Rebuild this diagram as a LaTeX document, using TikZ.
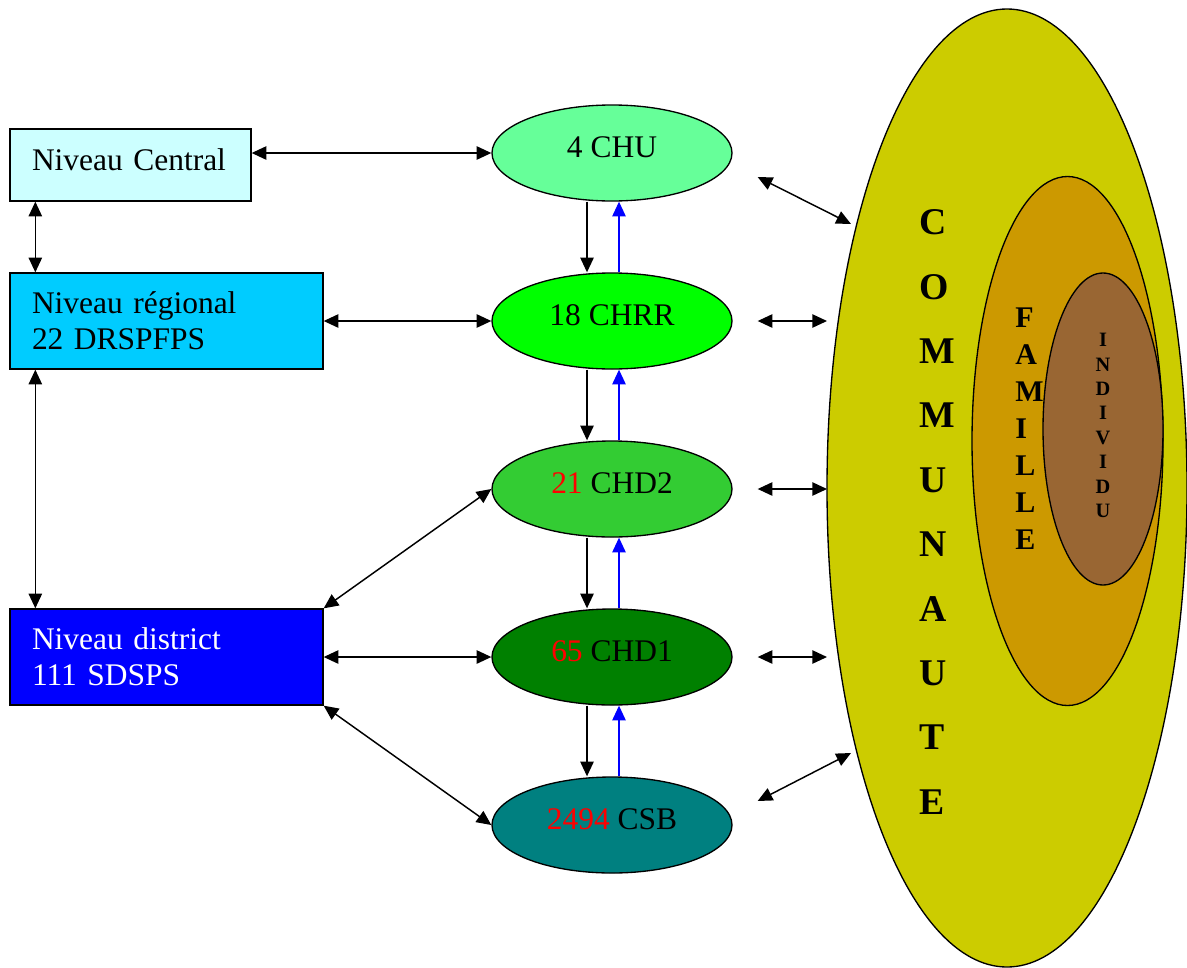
\documentclass[tikz,border=0pt]{standalone}
\usepackage{fontspec}
\setmainfont{Liberation Serif}
\usepackage{xcolor}
\definecolor{central-cyan}{HTML}{CCFFFF}
\definecolor{regional-blue}{HTML}{00CCFF}
\definecolor{district-blue}{HTML}{0000FF}
\definecolor{chu-green}{HTML}{66FF99}
\definecolor{chrr-green}{HTML}{00FF00}
\definecolor{chd2-green}{HTML}{33CC33}
\definecolor{chd1-green}{HTML}{008000}
\definecolor{csb-teal}{HTML}{008080}
\definecolor{commune-olive}{HTML}{CCCC00}
\definecolor{famille-ochre}{HTML}{CC9900}
\definecolor{individu-brown}{HTML}{996633}
\definecolor{count-red}{HTML}{FF0000}
\usepackage{tikz}
\usetikzlibrary{shapes.geometric, arrows.meta}

\tikzset{
  level box/.style={draw, line width=1pt, rectangle, inner xsep=16.5pt, inner ysep=0pt, align=left, font=\fontsize{23.6}{27}\selectfont},
  hospital/.style={draw, line width=1pt, ellipse, inner sep=0pt, minimum width=180pt, minimum height=72pt, text height=16pt, text depth=10pt, font=\fontsize{23.6}{27}\selectfont},
  zone/.style={draw, line width=1pt, ellipse, inner sep=0pt},
  zone word/.style={inner sep=0pt, font=\bfseries},
  both ways/.style={line width=1.1pt, {Triangle[length=11pt,width=10pt]}-{Triangle[length=11pt,width=10pt]}},
  down way/.style={line width=1.1pt, -{Triangle[length=11pt,width=10pt]}},
  up way/.style={line width=1.1pt, blue, -{Triangle[length=11pt,width=10pt]}},
}

\begin{document}
\begin{tikzpicture}[x=0.75pt, y=-0.75pt]

    % Frame
    \useasboundingbox (0, 0) rectangle (1187, 967);

    % Community rings
    \node[zone, fill=commune-olive, minimum width=270pt, minimum height=718.5pt] (commune) at (1007, 488) {};
    \node[zone, fill=famille-ochre, minimum width=143.25pt, minimum height=396.75pt] (famille) at (1067.5, 441) {};
    \node[zone, fill=individu-brown, minimum width=90pt, minimum height=234pt] (individu) at (1103, 429) {};

    \node[zone word, anchor=north west, align=left, font=\bfseries\fontsize{28.3}{48.3}\selectfont] (commune-word) at (919, 209.5) {C\\O\\M\\M\\U\\N\\A\\U\\T\\E};
    \node[zone word, anchor=north west, align=left, font=\bfseries\fontsize{22.5}{27.75}\selectfont] (famille-word) at (1015, 308) {F\\A\\M\\I\\L\\L\\E};
    \node[zone word, anchor=north, align=center, font=\bfseries\fontsize{15.3}{18.3}\selectfont] (individu-word) at (1103, 333) {I\\N\\D\\I\\V\\I\\D\\U};

    % Levels
    \node[level box, fill=central-cyan, text width=147.75pt, text depth=8.8pt, minimum height=54pt] (central) at (130.5, 165) {Niveau Central};
    \node[level box, fill=regional-blue, text width=201.75pt, minimum height=72pt] (regional) at (166.5, 321) {Niveau régional\\22 DRSPFPS};
    \node[level box, fill=district-blue, text=white, text width=201.75pt, minimum height=72pt] (district) at (166.5, 657) {Niveau district\\111 SDSPS};

    % Hospitals
    \node[hospital, fill=chu-green] (chu) at (612, 153) {4 CHU};
    \node[hospital, fill=chrr-green] (chrr) at (612, 321) {18 CHRR};
    \node[hospital, fill=chd2-green] (chd2) at (612, 489) {\textcolor{count-red}{21} CHD2};
    \node[hospital, fill=chd1-green] (chd1) at (612, 657) {\textcolor{count-red}{65} CHD1};
    \node[hospital, fill=csb-teal] (csb) at (612, 825) {\textcolor{count-red}{2494} CSB};

    % Community ends
    \coordinate (commune-chu) at (851, 224);
    \coordinate (commune-chrr) at (827, 321);
    \coordinate (commune-chd2) at (827, 489);
    \coordinate (commune-chd1) at (827, 657);
    \coordinate (commune-csb) at (851, 753);

    % Level links
    \draw[both ways] (central.east |- chu.west) -- (chu.west);
    \draw[both ways] (regional.east) -- (chrr.west);
    \draw[both ways] (district.east) -- (chd1.west);
    \draw[both ways] (district.north east) -- (chd2.west);
    \draw[both ways] (district.south east) -- (csb.west);
    \draw[both ways] ([xshift=19.5pt]central.south west) -- ([xshift=19.5pt]regional.north west);
    \draw[both ways] ([xshift=19.5pt]regional.south west) -- ([xshift=19.5pt]district.north west);

    % Referrals
    \draw[down way] ([xshift=-18.75pt]chu.south) -- ([xshift=-18.75pt]chrr.north);
    \draw[down way] ([xshift=-18.75pt]chrr.south) -- ([xshift=-18.75pt]chd2.north);
    \draw[down way] ([xshift=-18.75pt]chd2.south) -- ([xshift=-18.75pt]chd1.north);
    \draw[down way] ([xshift=-18.75pt]chd1.south) -- ([xshift=-18.75pt]csb.north);
    \draw[up way] ([xshift=5.25pt]chrr.north) -- ([xshift=5.25pt]chu.south);
    \draw[up way] ([xshift=5.25pt]chd2.north) -- ([xshift=5.25pt]chrr.south);
    \draw[up way] ([xshift=5.25pt]chd1.north) -- ([xshift=5.25pt]chd2.south);
    \draw[up way] ([xshift=5.25pt]csb.north) -- ([xshift=5.25pt]chd1.south);

    % Community links
    \draw[both ways] ([shift={(18.75pt, -18pt)}]chu.east) -- (commune-chu);
    \draw[both ways] ([xshift=18.75pt]chrr.east) -- (commune-chrr);
    \draw[both ways] ([xshift=18.75pt]chd2.east) -- (commune-chd2);
    \draw[both ways] ([xshift=18.75pt]chd1.east) -- (commune-chd1);
    \draw[both ways] ([shift={(18.75pt, 18pt)}]csb.east) -- (commune-csb);

\end{tikzpicture}
\end{document}
